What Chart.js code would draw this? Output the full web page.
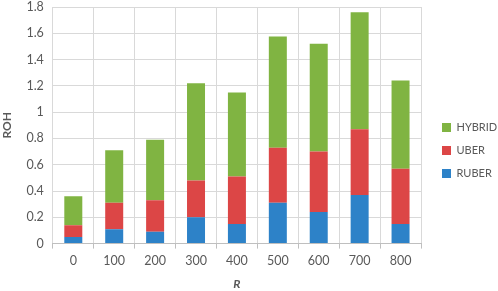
<!DOCTYPE html>
<html>
<head>
<meta charset="utf-8">
<script src="https://cdn.jsdelivr.net/npm/chart.js@4"></script>
<style>
html,body{margin:0;padding:0;background:#fff;}
#wrap{width:498px;height:291px;}
</style>
</head>
<body>
<div id="wrap"><canvas id="c" width="498" height="291"></canvas></div>
<script>
const categories = ['0','100','200','300','400','500','600','700','800'];
const ruber  = [0.05, 0.11, 0.09, 0.20, 0.15, 0.31, 0.24, 0.37, 0.15];
const uber   = [0.09, 0.20, 0.24, 0.28, 0.36, 0.42, 0.46, 0.50, 0.42];
const hybrid = [0.22, 0.40, 0.46, 0.74, 0.64, 0.845, 0.82, 0.89, 0.67];
const yMin = 0, yMax = 1.8, yStep = 0.2;
const xTitle = 'R', yTitle = 'ROH';

const txt = '#595959';
const fam = 'Lato';
const font = {family: fam, size: 12.5};
const shiftLegend = {
  id: 'shiftLegend',
  afterLayout(chart) {
    const l = chart.legend;
    if (!l) return;
    l.left += 9; l.right += 9;
    l.top += 5; l.bottom += 5;
  }
};
new Chart(document.getElementById('c'), {
  type: 'bar',
  data: {
    labels: categories,
    datasets: [
      {label: 'RUBER', data: ruber, backgroundColor: '#2d82c8'},
      {label: 'UBER', data: uber, backgroundColor: '#dc4646'},
      {label: 'HYBRID', data: hybrid, backgroundColor: '#80b442'}
    ]
  },
  plugins: [shiftLegend],
  options: {
    responsive: false,
    animation: false,
    devicePixelRatio: 1,
    layout: {padding: {top: 0, right: 0, left: 0, bottom: 0}},
    datasets: {bar: {barPercentage: 0.44, categoryPercentage: 1}},
    plugins: {
      legend: {
        position: 'right',
        reverse: true,
        maxWidth: 77,
        labels: {boxWidth: 9, boxHeight: 9, color: txt, font: {family: fam, size: 11}, padding: 12}
      },
      tooltip: {enabled: false}
    },
    scales: {
      x: {
        stacked: true,
        grid: {color: '#d9d9d9', offset: true, tickLength: 5, tickColor: '#bfbfbf'},
        border: {color: '#bfbfbf'},
        ticks: {color: txt, font: font, padding: 5},
        title: {display: true, text: xTitle, color: txt, font: {family: fam, size: 12, weight: 'bold', style: 'italic'}, padding: {top: 3, bottom: 0}}
      },
      y: {
        stacked: true,
        min: yMin, max: yMax,
        grid: {color: '#d9d9d9', drawTicks: false},
        border: {display: false},
        afterFit: s => { s.paddingTop = 7; },
        ticks: {stepSize: yStep, color: txt, font: font, padding: 9,
          callback: v => String(Math.round(v * 10) / 10)},
        title: {display: true, text: yTitle, color: txt, font: {family: fam, size: 12, weight: 'bold'}, padding: {top: 0, bottom: 3}}
      }
    }
  }
});
</script>
</body>
</html>
